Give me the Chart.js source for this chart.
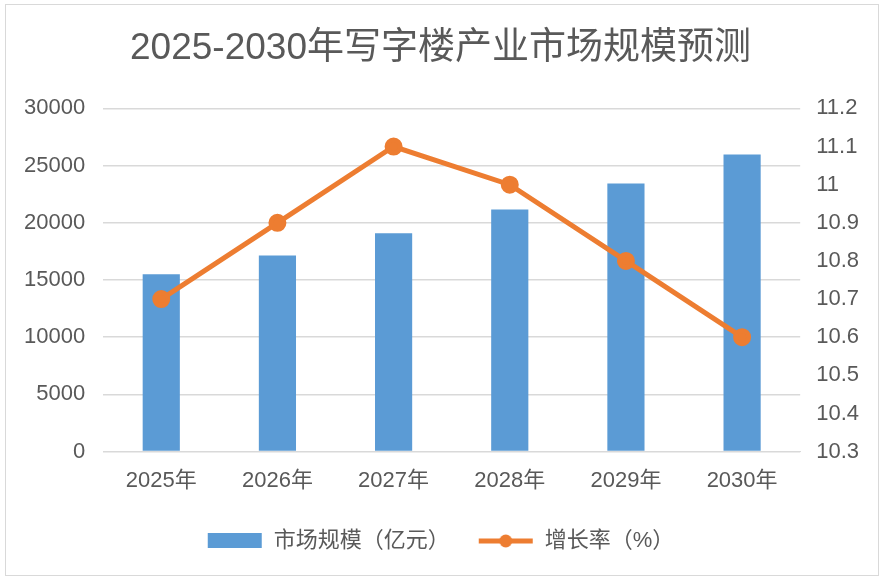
<!DOCTYPE html>
<html>
<head>
<meta charset="utf-8">
<script src="https://cdn.jsdelivr.net/npm/chart.js@4"></script>
<style>
  html, body { margin: 0; padding: 0; background: #fff; }
  .wrap { position: relative; width: 883px; height: 582px; }
  .frame { position: absolute; left: 5px; top: 4px; width: 874px; height: 572px; border: 1px solid #d9d9d9; box-sizing: border-box; }
  canvas { position: absolute; left: 0; top: 0; }
</style>
</head>
<body>
<div class="wrap">
  <div class="frame"></div>
  <canvas id="chart" width="883" height="582"></canvas>
</div>
<script>
// 数据
const years = ['2025年', '2026年', '2027年', '2028年', '2029年', '2030年']
const marketSize = [15500, 17150, 19080, 21170, 23440, 25970]
const growthRate = [10.7, 10.9, 11.1, 11.0, 10.8, 10.6]

const FONT = '"Liberation Sans", "Noto Sans CJK SC", sans-serif'
const TEXT = '#595959'

// 图例里的小图标
function legendIcon(kind) {
    const c = document.createElement('canvas')
    c.width = 56
    c.height = 16
    const g = c.getContext('2d')
    if (kind === 'bar') {
        g.fillStyle = '#5b9bd5'
        g.fillRect(1, 0, 54, 15)
    } else {
        g.strokeStyle = '#ed7d31'
        g.lineWidth = 5
        g.beginPath()
        g.moveTo(1, 8)
        g.lineTo(55, 8)
        g.stroke()
        g.fillStyle = '#ed7d31'
        g.beginPath()
        g.arc(28, 8, 6.5, 0, Math.PI * 2)
        g.fill()
    }
    return c
}

const ctx = document.getElementById('chart').getContext('2d')
new Chart(ctx, {
    data: {
        labels: years,
        datasets: [{
            type: 'line',
            label: '增长率（%）',
            data: growthRate,
            yAxisID: 'y1',
            borderColor: '#ed7d31',
            backgroundColor: '#ed7d31',
            borderWidth: 5,
            pointRadius: 6.5,
            pointHoverRadius: 6.5,
            tension: 0,
            order: 1
        }, {
            type: 'bar',
            label: '市场规模（亿元）',
            data: marketSize,
            yAxisID: 'y',
            backgroundColor: '#5b9bd5',
            barPercentage: 0.32,
            categoryPercentage: 1,
            order: 2
        }]
    },
    options: {
        responsive: false,
        animation: false,
        layout: { padding: { left: 6, right: 8, top: 10, bottom: 20 } },
        scales: {
            x: {
                grid: { display: false },
                border: { color: '#d9d9d9' },
                ticks: { color: TEXT, font: { family: FONT, size: 22 }, padding: 8 }
            },
            y: {
                position: 'left',
                min: 0,
                max: 30000,
                ticks: { stepSize: 5000, color: TEXT, font: { family: FONT, size: 22 }, padding: 18, callback: v => String(v) },
                grid: { color: '#d9d9d9', lineWidth: 1.5, drawTicks: false },
                border: { display: false }
            },
            y1: {
                position: 'right',
                min: 10.3,
                max: 11.2,
                ticks: {
                    stepSize: 0.1,
                    color: TEXT,
                    font: { family: FONT, size: 22 },
                    padding: 16,
                    callback: v => String(Math.round(v * 10) / 10)
                },
                grid: { display: false, drawTicks: false },
                border: { display: false }
            }
        },
        plugins: {
            title: {
                display: true,
                text: '2025-2030年写字楼产业市场规模预测',
                color: TEXT,
                font: { family: FONT, size: 37, weight: 'normal' },
                padding: { top: 17, bottom: 37 }
            },
            legend: {
                position: 'bottom',
                reverse: true,
                labels: {
                    color: TEXT,
                    font: { family: FONT, size: 22 },
                    usePointStyle: true,
                    pointStyleWidth: 56,
                    boxHeight: 16,
                    padding: 28,
                    generateLabels: chart => chart.data.datasets.map((ds, i) => ({
                        text: ds.label,
                        fontColor: TEXT,
                        pointStyle: legendIcon(ds.type),
                        datasetIndex: i,
                        lineWidth: 0,
                        hidden: false
                    }))
                }
            },
            tooltip: { enabled: false }
        }
    }
})
</script>
</body>
</html>
